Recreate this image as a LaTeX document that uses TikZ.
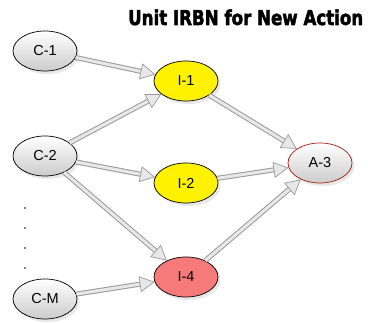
\documentclass[tikz,border=0pt]{standalone}
\usepackage{fontspec}
\setmainfont{Liberation Sans}
\newfontfamily\titlefont[FakeBold=2.5]{DejaVu Sans}
\usetikzlibrary{arrows.meta,shadows,shapes.geometric}
\definecolor{salmon}{RGB}{247,122,122}
\definecolor{rim}{RGB}{165,30,20}
\tikzset{
  state/.style={ellipse, draw=black, line width=0.7pt, minimum width=64pt,
    minimum height=40pt, inner sep=0pt, font=\fontsize{14.5}{14.5}\selectfont,
    drop shadow={shadow xshift=2.5pt, shadow yshift=-3pt, opacity=0.18}},
  grey/.style={state, top color=white, bottom color=gray!40},
  yel/.style={state, fill=yellow},
  red/.style={state, fill=salmon},
  act/.style={grey, draw=rim},
  fat/.style={draw=gray!80, line width=5pt,
    -{Triangle[length=15pt, width=16pt, fill=gray!18, color=gray!80, line width=0.7pt]},
    postaction={draw=gray!18, line width=3pt, -, shorten >=15.2pt}},
  dot/.style={circle, fill=black, inner sep=0pt, minimum size=1.8pt}
}
\begin{document}
\begin{tikzpicture}[x=1pt, y=-1pt]
\useasboundingbox (0,0) rectangle (368,323);

\node[anchor=base west, inner sep=0pt] (title) at (128,25)
  {\resizebox{235pt}{15.5pt}{\titlefont\bfseries Unit IRBN for New Action}};

\node[grey] (c1) at (45,51) {C-1};
\node[grey] (c2) at (45,156) {C-2};
\node[grey] (cm) at (45,299) {C-M};
\node[yel] (i1) at (186,81) {I-1};
\node[yel] (i2) at (186,183) {I-2};
\node[red] (i4) at (186,277) {I-4};
\node[act] (a3) at (320,163) {A-3};

\node[dot] (d1) at (25,208) {};
\node[dot] (d2) at (25,228) {};
\node[dot] (d3) at (25,248) {};
\node[dot] (d4) at (25,268) {};

\draw[fat] (c1) -- (i1);
\draw[fat] (c2) -- (i1);
\draw[fat] (c2) -- (i2);
\draw[fat] (c2) -- (i4);
\draw[fat] (cm) -- (i4);
\draw[fat] (i1) -- (a3);
\draw[fat] (i2) -- (a3);
\draw[fat] (i4) -- (a3);
\end{tikzpicture}
\end{document}
